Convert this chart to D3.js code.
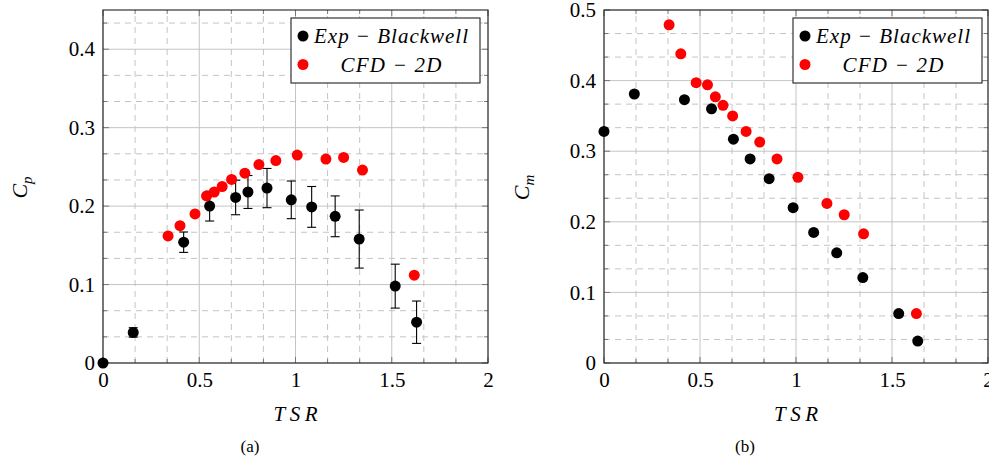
<!DOCTYPE html>
<html><head><meta charset="utf-8">
<script src="https://cdn.jsdelivr.net/npm/d3@7"></script>
<style>
html,body{margin:0;padding:0;background:#fff;}
svg{display:block;font-family:'Liberation Serif','Times New Roman',Times,serif;}
svg text{font-family:'Liberation Serif','Times New Roman',Times,serif !important;fill:#000;}
</style></head>
<body><svg id="c" width="989" height="458"></svg>
<script>
// ---- data ----
const tsrExpCp = [0, 0.157, 0.419, 0.554, 0.689, 0.753, 0.852, 0.978, 1.084, 1.206, 1.331, 1.518, 1.629];
const cpExp    = [0, 0.039, 0.154, 0.200, 0.211, 0.218, 0.223, 0.208, 0.199, 0.187, 0.158, 0.098, 0.052];
const cpExpErr = [0, 0.006, 0.013, 0.019, 0.022, 0.021, 0.025, 0.024, 0.026, 0.026, 0.037, 0.028, 0.027];
const tsrCfdCp = [0.338, 0.400, 0.478, 0.538, 0.578, 0.619, 0.668, 0.737, 0.810, 0.898, 1.009, 1.158, 1.250, 1.348, 1.617];
const cpCfd    = [0.162, 0.175, 0.190, 0.213, 0.218, 0.225, 0.234, 0.242, 0.253, 0.258, 0.265, 0.260, 0.262, 0.246, 0.112];

const tsrExpCm = [0, 0.158, 0.419, 0.560, 0.674, 0.761, 0.860, 0.985, 1.092, 1.212, 1.348, 1.535, 1.634];
const cmExp    = [0.328, 0.381, 0.373, 0.360, 0.317, 0.289, 0.261, 0.220, 0.185, 0.156, 0.121, 0.070, 0.031];
const tsrCfdCm = [0.339, 0.400, 0.480, 0.539, 0.580, 0.620, 0.670, 0.740, 0.811, 0.901, 1.010, 1.161, 1.251, 1.352, 1.627];
const cmCfd    = [0.479, 0.438, 0.397, 0.394, 0.377, 0.365, 0.350, 0.328, 0.313, 0.289, 0.263, 0.226, 0.210, 0.183, 0.070];

const xTicks = [0, 0.5, 1, 1.5, 2];
const xTickLabels = ["0", "0.5", "1", "1.5", "2"];
const yTicksCp = [0, 0.1, 0.2, 0.3, 0.4];
const yTickLabelsCp = ["0", "0.1", "0.2", "0.3", "0.4"];
const yTicksCm = [0, 0.1, 0.2, 0.3, 0.4, 0.5];
const yTickLabelsCm = ["0", "0.1", "0.2", "0.3", "0.4", "0.5"];
const legendLabels = ["Exp \u2212 Blackwell", "CFD \u2212 2D"];
const seriesColors = ["#000000", "#ff0000"];

const svg = d3.select("#c");
const SERIF = "'Liberation Serif','Times New Roman',Times,serif";

function panel(o) {
  const g = svg.append("g");
  const x = d3.scaleLinear().domain([0, 2]).range([o.x0, o.x1]);
  const y = d3.scaleLinear().domain([0, o.ymax]).range([o.y0, o.y1]);
  const W = o.x1 - o.x0, H = o.y0 - o.y1;

  const xMinor = [];
  for (let i = 0; i < 4; i++) for (let k = 1; k < 3; k++) xMinor.push(i * 0.5 + k * 0.5 / 3);
  const yMinor = [];
  for (let i = 0; i < o.yTicks.length; i++) for (let k = 1; k < 3; k++) {
    const v = o.yTicks[i] + k * 0.1 / 3; if (v < o.ymax - 1e-9) yMinor.push(v);
  }
  const grid = g.append("g");
  grid.selectAll(".xm").data(xMinor).join("line")
    .attr("x1", d => x(d)).attr("x2", d => x(d)).attr("y1", o.y0).attr("y2", o.y1)
    .attr("stroke", "#c4c4c4").attr("stroke-width", 1).attr("stroke-dasharray", "6,5");
  grid.selectAll(".ym").data(yMinor).join("line")
    .attr("y1", d => y(d)).attr("y2", d => y(d)).attr("x1", o.x0).attr("x2", o.x1)
    .attr("stroke", "#c4c4c4").attr("stroke-width", 1).attr("stroke-dasharray", "6,5");
  grid.selectAll(".xM").data(xTicks).join("line")
    .attr("x1", d => x(d)).attr("x2", d => x(d)).attr("y1", o.y0).attr("y2", o.y1)
    .attr("stroke", "#c4c4c4").attr("stroke-width", 1);
  grid.selectAll(".yM").data(o.yTicks).join("line")
    .attr("y1", d => y(d)).attr("y2", d => y(d)).attr("x1", o.x0).attr("x2", o.x1)
    .attr("stroke", "#c4c4c4").attr("stroke-width", 1);

  const tl = 6, tlm = 4;
  const ticks = g.append("g").attr("stroke", "#777").attr("stroke-width", 1);
  xTicks.concat(xMinor).forEach((d, i) => {
    const L = i < xTicks.length ? tl : tlm;
    ticks.append("line").attr("x1", x(d)).attr("x2", x(d)).attr("y1", o.y0).attr("y2", o.y0 - L);
    ticks.append("line").attr("x1", x(d)).attr("x2", x(d)).attr("y1", o.y1).attr("y2", o.y1 + L);
  });
  o.yTicks.concat(yMinor).forEach((d, i) => {
    const L = i < o.yTicks.length ? tl : tlm;
    ticks.append("line").attr("y1", y(d)).attr("y2", y(d)).attr("x1", o.x0).attr("x2", o.x0 + L);
    ticks.append("line").attr("y1", y(d)).attr("y2", y(d)).attr("x1", o.x1).attr("x2", o.x1 - L);
  });

  g.append("rect").attr("x", o.x0).attr("y", o.y1).attr("width", W).attr("height", H)
    .attr("fill", "none").attr("stroke", "#222").attr("stroke-width", 1.1);

  const ax = d3.axisBottom(x).tickValues(xTicks).tickFormat((d, i) => xTickLabels[i]).tickSize(0).tickPadding(9);
  const gx = g.append("g").attr("transform", `translate(0,${o.y0})`).call(ax);
  gx.attr("font-family", SERIF);
  gx.select(".domain").remove();
  gx.selectAll("text").attr("font-family", SERIF).attr("font-size", 21).attr("fill", "#000");
  const ay = d3.axisLeft(y).tickValues(o.yTicks).tickFormat((d, i) => o.yLabels[i]).tickSize(0).tickPadding(8);
  const gy = g.append("g").attr("transform", `translate(${o.x0},0)`).call(ay);
  gy.attr("font-family", SERIF);
  gy.select(".domain").remove();
  gy.selectAll("text").attr("font-family", SERIF).attr("font-size", 21).attr("fill", "#000");

  g.append("text").attr("x", (o.x0 + o.x1) / 2).attr("y", 421).attr("text-anchor", "middle")
    .attr("font-size", 21).attr("font-style", "italic").attr("textLength", 44).attr("lengthAdjust", "spacing")
    .text("TSR");
  const yt = g.append("text").attr("transform", `translate(${o.ylx},${(o.y0 + o.y1) / 2 + 1}) rotate(-90)`)
    .attr("text-anchor", "middle").attr("font-size", 22).attr("font-style", "italic");
  yt.append("tspan").text("C");
  yt.append("tspan").attr("font-size", 15).attr("dy", 5).text(o.sub);
  g.append("text").attr("x", o.cap).attr("y", 452).attr("text-anchor", "middle").attr("font-size", 17).text(o.capText);

  if (o.err) {
    const eb = g.append("g").attr("stroke", "#000").attr("stroke-width", 1.1);
    o.ex.forEach((xv, i) => {
      const e = o.err[i]; if (!e) return;
      const yt0 = y(o.ey[i] + e), yb0 = y(o.ey[i] - e), xc = x(xv);
      eb.append("line").attr("x1", xc).attr("x2", xc).attr("y1", yt0).attr("y2", yb0);
      eb.append("line").attr("x1", xc - 4.5).attr("x2", xc + 4.5).attr("y1", yt0).attr("y2", yt0);
      eb.append("line").attr("x1", xc - 4.5).attr("x2", xc + 4.5).attr("y1", yb0).attr("y2", yb0);
    });
  }
  g.append("g").selectAll("circle").data(o.ex.map((d, i) => [d, o.ey[i]])).join("circle")
    .attr("cx", d => x(d[0])).attr("cy", d => y(d[1])).attr("r", 5.5).attr("fill", seriesColors[0]);
  g.append("g").selectAll("circle").data(o.cx.map((d, i) => [d, o.cy[i]])).join("circle")
    .attr("cx", d => x(d[0])).attr("cy", d => y(d[1])).attr("r", 5.5).attr("fill", seriesColors[1]);

  const lg = g.append("g");
  lg.append("rect").attr("x", o.lx).attr("y", 18).attr("width", 189).attr("height", 65)
    .attr("fill", "#fff").attr("stroke", "#222").attr("stroke-width", 1.1);
  const rows = [{y: 36, tl: 154}, {y: 64.5, tl: 101}];
  legendLabels.forEach((t, i) => {
    lg.append("circle").attr("cx", o.lx + 12).attr("cy", rows[i].y).attr("r", 5.5).attr("fill", seriesColors[i]);
    lg.append("text").attr("x", o.lx + 100).attr("y", rows[i].y + 7).attr("text-anchor", "middle")
      .attr("font-size", 21).attr("font-style", "italic")
      .attr("textLength", rows[i].tl).attr("lengthAdjust", "spacing").text(t);
  });
}

panel({x0: 103, x1: 488, y0: 363, y1: 10, ymax: 0.45, yTicks: yTicksCp, yLabels: yTickLabelsCp,
  ex: tsrExpCp, ey: cpExp, err: cpExpErr, cx: tsrCfdCp, cy: cpCfd,
  lx: 291, ylx: 27, sub: "p", cap: 250, capText: "(a)"});
panel({x0: 604, x1: 988, y0: 363, y1: 10, ymax: 0.5, yTicks: yTicksCm, yLabels: yTickLabelsCm,
  ex: tsrExpCm, ey: cmExp, err: null, cx: tsrCfdCm, cy: cmCfd,
  lx: 793, ylx: 529, sub: "m", cap: 745, capText: "(b)"});
</script></body></html>
